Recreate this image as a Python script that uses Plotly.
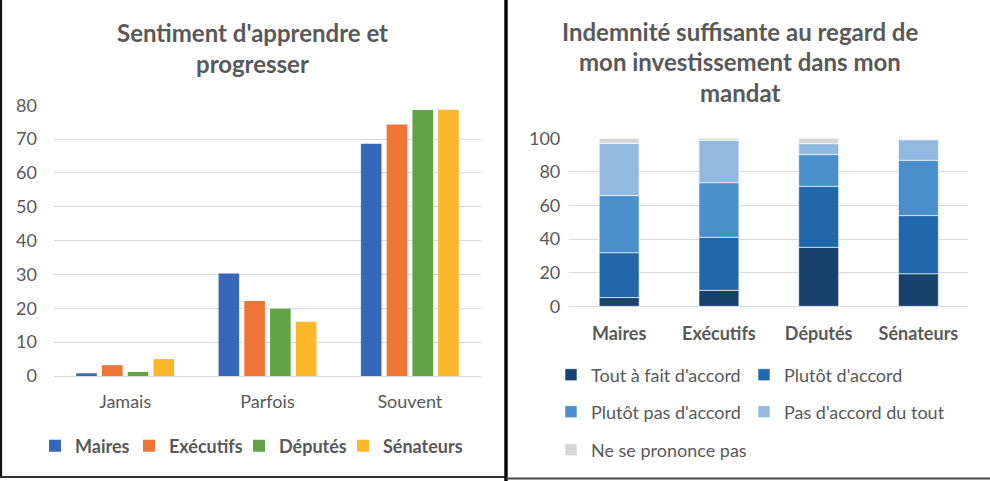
import numpy as np
import plotly.graph_objects as go

W, H = 990, 481

# ---------------- Data: left chart ----------------
left_title_lines = ["Sentiment d'apprendre et", "progresser"]
left_categories = ["Jamais", "Parfois", "Souvent"]
left_series = ["Maires", "Exécutifs", "Députés", "Sénateurs"]
maires = [0.8, 30.3, 68.6]
executifs = [3.2, 22.2, 74.3]
deputes = [1.2, 19.9, 78.6]
senateurs = [5.0, 16.0, 78.7]
left_ticks = [0, 10, 20, 30, 40, 50, 60, 70, 80]

# ---------------- Data: right chart ----------------
right_title_lines = ["Indemnité suffisante au regard de",
                     "mon investissement dans mon",
                     "mandat"]
right_categories = ["Maires", "Exécutifs", "Députés", "Sénateurs"]
right_series = ["Tout à fait d'accord", "Plutôt d'accord", "Plutôt pas d'accord",
                "Pas d'accord du tout", "Ne se prononce pas"]
tout_a_fait = [5.2, 9.5, 35.1, 19.4]
plutot = [26.7, 31.6, 36.3, 34.6]
plutot_pas = [34.0, 32.5, 18.9, 32.9]
pas_du_tout = [31.1, 25.2, 6.5, 12.3]
nsp = [3.0, 1.2, 3.2, 0.0]
right_ticks = [0, 20, 40, 60, 80, 100]

# ---------------- Styles ----------------
FONT = "Lato, 'Open Sans', sans-serif"
TXT = "#595959"
GRID = "#d9d9d9"
FS = 18
left_colors = ["#3767B8", "#EE7535", "#63A345", "#FCB72C"]
right_colors = ["#17426E", "#2068AA", "#4A8FCC", "#92BAE0", "#D6D6D6"]

# legend item placement (pixels)
left_legend_x = [35, 129, 239, 343]
left_legend_y = 446
right_legend_xy = [(551, 375), (744, 375), (551, 412), (744, 412), (551, 450)]


def X(px):
    return px / W


def Y(py):
    return 1 - py / H


fig = go.Figure()
legend_layouts = {}

# Left grouped bars, one legend box per item
for i, (name, vals, col) in enumerate(zip(left_series, [maires, executifs, deputes, senateurs], left_colors)):
    lg = "legend" if i == 0 else f"legend{i + 1}"
    fig.add_trace(go.Bar(
        x=left_categories, y=vals, name=name, marker_color=col, showlegend=True,
        marker_line_width=0, xaxis="x", yaxis="y", legend=lg,
    ))
    legend_layouts[lg] = dict(
        orientation="h", x=X(left_legend_x[i]), xanchor="left", y=Y(left_legend_y), yanchor="middle",
        itemwidth=30, font=dict(family=FONT, size=FS, color=TXT, weight="bold"),
        bgcolor="rgba(0,0,0,0)", itemclick=False, itemdoubleclick=False)

# Right stacked bars (single offset group, explicit base)
right_vals = [tout_a_fait, plutot, plutot_pas, pas_du_tout, nsp]
bases = np.cumsum([np.zeros(len(right_categories))] + [np.array(v) for v in right_vals[:-1]], axis=0)
for j, (name, vals, base, col) in enumerate(zip(right_series, right_vals, bases, right_colors)):
    lg = f"legend{5 + j}"
    fig.add_trace(go.Bar(
        x=right_categories, y=vals, base=base, name=name, marker_color=col, showlegend=True,
        marker_line=dict(color="white", width=0.6),
        offsetgroup="stack", width=0.4, offset=-0.2,
        xaxis="x2", yaxis="y2", legend=lg,
    ))
    px_, py_ = right_legend_xy[j]
    legend_layouts[lg] = dict(
        orientation="h", x=X(px_), xanchor="left", y=Y(py_), yanchor="middle",
        itemwidth=30, font=dict(family=FONT, size=FS, color=TXT),
        bgcolor="rgba(0,0,0,0)", itemclick=False, itemdoubleclick=False)

axis_common = dict(tickfont=dict(family=FONT, size=FS, color=TXT), fixedrange=True)

fig.update_layout(
    width=W, height=H, showlegend=True,
    margin=dict(l=0, r=0, t=0, b=0, autoexpand=False),
    paper_bgcolor="white", plot_bgcolor="white",
    barmode="group", bargap=0.276, bargroupgap=0.2,
    font=dict(family=FONT, color=TXT),
    xaxis=dict(domain=[X(54), X(481)], anchor="y", showline=True, linecolor=GRID,
               linewidth=1, showgrid=False, ticks="", ticklabelstandoff=9, **axis_common),
    yaxis=dict(domain=[Y(376), Y(105.3)], anchor="x", range=[0, 80], tickvals=left_ticks,
               showgrid=True, gridcolor=GRID, gridwidth=1, zeroline=False, showline=False,
               ticks="", ticklabelstandoff=16, **axis_common),
    xaxis2=dict(domain=[X(569.3), X(968.3)], anchor="y2", showline=True, linecolor=GRID,
                linewidth=1, showgrid=False, ticks="", ticklabelstandoff=11,
                tickfont=dict(family=FONT, size=FS, color=TXT, weight="bold"), fixedrange=True),
    yaxis2=dict(domain=[Y(306.3), Y(138.3)], anchor="x2", range=[0, 100], tickvals=right_ticks,
                showgrid=True, gridcolor=GRID, gridwidth=1, zeroline=False, showline=False,
                ticks="", ticklabelstandoff=8, **axis_common),
    **legend_layouts,
)

# Titles (one annotation per line)
annotations = []
for i, line in enumerate(left_title_lines):
    annotations.append(dict(text=line, x=X(253), y=Y(33 + 30 * i), xref="paper", yref="paper",
                            xanchor="center", yanchor="middle", showarrow=False,
                            font=dict(family=FONT, size=24, color=TXT, weight="bold")))
for i, line in enumerate(right_title_lines):
    annotations.append(dict(text=line, x=X(739.5), y=Y(31 + 30.5 * i), xref="paper", yref="paper",
                            xanchor="center", yanchor="middle", showarrow=False,
                            font=dict(family=FONT, size=24, color=TXT, weight="bold")))
fig.update_layout(annotations=annotations)

# Panel borders
shapes = [
    dict(type="line", x0=X(1), x1=X(1), y0=Y(0), y1=Y(477), line=dict(color="#111111", width=2.2)),
    dict(type="line", x0=X(0), x1=X(506), y0=Y(477), y1=Y(477), line=dict(color="#333333", width=2)),
    dict(type="line", x0=X(506), x1=X(506), y0=Y(0), y1=Y(481), line=dict(color="#000000", width=3.4)),
    dict(type="line", x0=X(506), x1=X(990), y0=Y(478.5), y1=Y(478.5), line=dict(color="#444444", width=2)),
]
for s in shapes:
    s.update(xref="paper", yref="paper", layer="above")
fig.update_layout(shapes=shapes)

fig.write_html("out.html", config={"displayModeBar": False, "staticPlot": False},
               post_script="document.body.style.margin='0';document.body.style.overflow='hidden';")
